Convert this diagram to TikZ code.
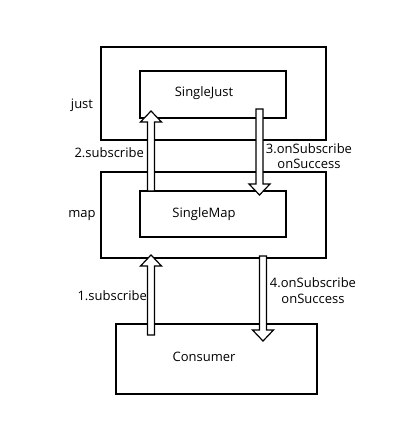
\documentclass[tikz,border=0pt]{standalone}
\usepackage{fontspec}
\setmainfont{Open Sans}
\usetikzlibrary{calc,positioning}

\begin{document}
\begin{tikzpicture}[x=1pt,y=-1pt]
  % Styles
  \tikzstyle{box}=[draw,line width=1.2pt,inner sep=0pt]
  \tikzstyle{txt}=[font=\fontsize{13}{15.5}\selectfont,inner sep=0pt]
  \tikzstyle{lbl}=[txt,align=center]
  \tikzstyle{hollow}=[draw,line width=1.2pt,fill=white,line join=miter,to path={
      let \p1=(\tikztostart), \p2=(\tikztotarget),
          \n1={ifthenelse(\y2>\y1,1,-1)} in
      (\x1-3.5pt,\y1) -- (\x1-3.5pt,\y2-\n1*11pt) -- (\x1-10.5pt,\y2-\n1*11pt)
      -- (\x1,\y2) -- (\x1+10.5pt,\y2-\n1*11pt) -- (\x1+3.5pt,\y2-\n1*11pt)
      -- (\x1+3.5pt,\y1) -- cycle}]

  \useasboundingbox (0,0) rectangle (410,427);

  % The boxes
  \node[box,minimum width=225pt,minimum height=93pt] (just) at (213.5,93.5) {};
  \node[box,minimum width=146pt,minimum height=47pt] (singlejust) at (213,94.5) {};
  \node[box,minimum width=225pt,minimum height=86pt] (map) at (213.5,215) {};
  \node[box,minimum width=146pt,minimum height=46pt] (singlemap) at (213,214) {};
  \node[box,minimum width=201pt,minimum height=70pt] (consumer) at (216.5,359) {};

  % Texts
  \node[txt] (just text) at (82,105) {just};
  \node[txt] (map text) at (82,216) {map};
  \node[txt] (singlejust text) at (204,93) {SingleJust};
  \node[txt] (singlemap text) at (204,214) {SingleMap};
  \node[txt] (consumer text) at (204,357) {Consumer};

  % Arrows
  \coordinate (sub1 from) at (151,335);
  \coordinate (sub1 to) at (151,255);
  \coordinate (sub2 from) at (151,191);
  \coordinate (sub2 to) at (151,111);
  \coordinate (on3 from) at (259.5,109);
  \coordinate (on3 to) at (259.5,195);
  \coordinate (on4 from) at (263,256);
  \coordinate (on4 to) at (263,341);

  \draw[hollow] (sub2 from) to (sub2 to);
  \draw[hollow] (on3 from) to (on3 to);
  \draw[hollow] (sub1 from) to (sub1 to);
  \draw[hollow] (on4 from) to (on4 to);

  \node[txt,anchor=east] (sub2 text) at (144,153) {2.subscribe};
  \node[lbl] (on3 text) at (309,156) {3.onSubscribe\\onSuccess};
  \node[txt,anchor=east] (sub1 text) at (147,296) {1.subscribe};
  \node[lbl] (on4 text) at (313,290.5) {4.onSubscribe\\onSuccess};
\end{tikzpicture}
\end{document}
